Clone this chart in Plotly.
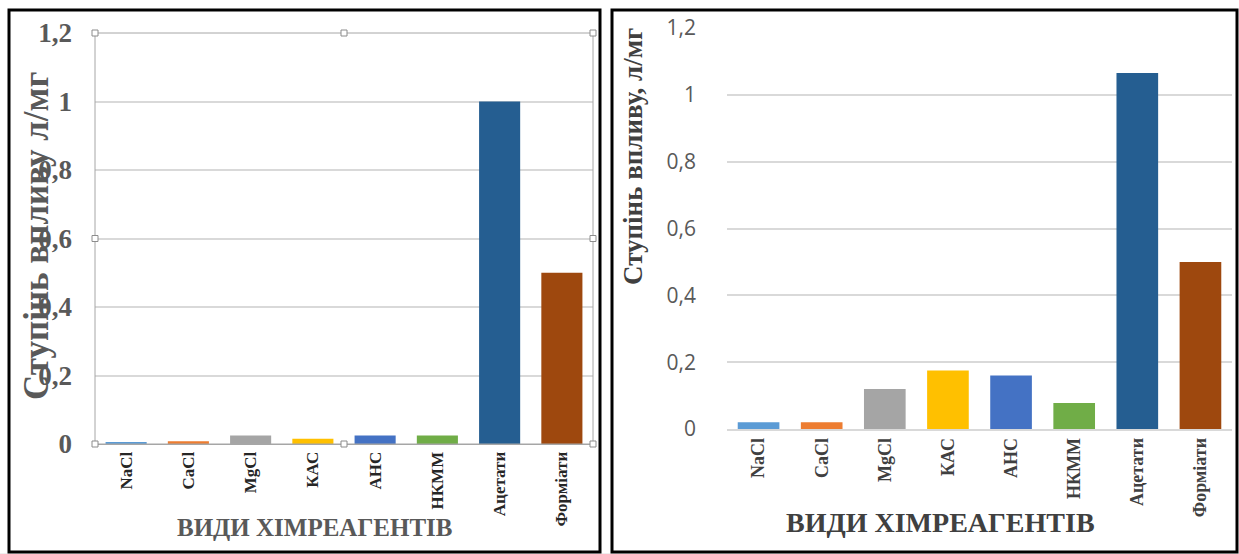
import plotly.graph_objects as go

categories = ["NaCl", "CaCl", "MgCl", "КАС", "АНС", "НКММ", "Ацетати", "Форміати"]
values_left = [0.003, 0.008, 0.025, 0.015, 0.025, 0.025, 1.0, 0.5]
values_right = [0.02, 0.02, 0.12, 0.175, 0.16, 0.078, 1.065, 0.5]
colors = ["#5B9BD5", "#ED7D31", "#A5A5A5", "#FFC000", "#4472C4", "#70AD47", "#255E91", "#9E480E"]
y_title_left = "Ступінь впливу л/мг"
y_title_right = "Ступінь впливу, л/мг"
x_title = "ВИДИ ХІМРЕАГЕНТІВ"

W, H = 1239, 554
def px(x):
    return x / W
def py(y):
    return 1 - y / H

SERIF = "Liberation Serif, Times New Roman, serif"
SANS = "Open Sans, Liberation Sans, sans-serif"

fig = go.Figure()
fig.add_trace(go.Bar(x=categories, y=values_left, marker=dict(color=colors, line=dict(width=0)),
                     xaxis="x", yaxis="y", showlegend=False))
fig.add_trace(go.Bar(x=categories, y=values_right, marker=dict(color=colors, line=dict(width=0)),
                     xaxis="x2", yaxis="y2", showlegend=False))

L = dict(x0=95, x1=593, ytop=33, ybot=444)
R = dict(x0=727, x1=1232, ytop=28, ybot=429)

fig.update_layout(
    width=W, height=H,
    margin=dict(l=0, r=0, t=0, b=0, autoexpand=False),
    paper_bgcolor="white", plot_bgcolor="white",
    separators=", ",
    bargap=0.34,
    xaxis=dict(domain=[px(L["x0"]), px(L["x1"])], anchor="y", tickangle=-90, automargin=False,
               tickfont=dict(family=SERIF, size=17, color="#262626", weight="bold"),
               showline=True, linecolor="#A6A6A6", linewidth=1, ticks="", showgrid=False),
    yaxis=dict(domain=[py(L["ybot"]), py(L["ytop"])], anchor="x", range=[0, 1.2], dtick=0.2,
               automargin=False,
               tickfont=dict(family=SERIF, size=27, color="#595959", weight="bold"),
               showgrid=True, gridcolor="#D9D9D9", gridwidth=1.5, zeroline=False,
               showline=False, ticklabelstandoff=22),
    xaxis2=dict(domain=[px(R["x0"]), px(R["x1"])], anchor="y2", tickangle=-90, automargin=False,
                tickfont=dict(family=SERIF, size=18, color="#404040", weight="bold"),
                showline=True, linecolor="#D9D9D9", linewidth=1.5, ticks="", showgrid=False),
    yaxis2=dict(domain=[py(R["ybot"]), py(R["ytop"])], anchor="x2", range=[0, 1.2], dtick=0.2,
                automargin=False,
                tickfont=dict(family=SANS, size=21, color="#595959"),
                showgrid=True, gridcolor="#D9D9D9", gridwidth=1.5, zeroline=False,
                showline=False, ticklabelstandoff=30),
)

annotations = [
    dict(text=f"<b>{y_title_left}</b>", x=px(36), y=py(236), xref="paper", yref="paper",
         textangle=-90, showarrow=False, font=dict(family=SERIF, size=35, color="#595959"),
         xanchor="center", yanchor="middle"),
    dict(text=f"<b>{x_title}</b>", x=px(315), y=py(527), xref="paper", yref="paper",
         showarrow=False, font=dict(family=SERIF, size=25, color="#595959"),
         xanchor="center", yanchor="middle"),
    dict(text=f"<b>{y_title_right}</b>", x=px(633), y=py(157), xref="paper", yref="paper",
         textangle=-90, showarrow=False, font=dict(family=SERIF, size=27, color="#404040"),
         xanchor="center", yanchor="middle"),
    dict(text=f"<b>{x_title}</b>", x=px(940), y=py(522), xref="paper", yref="paper",
         showarrow=False, font=dict(family=SERIF, size=28, color="#404040"),
         xanchor="center", yanchor="middle"),
]
fig.update_layout(annotations=annotations)

shapes = []
shapes.append(dict(type="rect", xref="paper", yref="paper", x0=px(9), x1=px(600), y0=py(552), y1=py(10),
                   line=dict(color="black", width=3)))
shapes.append(dict(type="rect", xref="paper", yref="paper", x0=px(612), x1=px(1237), y0=py(552), y1=py(10),
                   line=dict(color="black", width=3)))
shapes.append(dict(type="rect", xref="paper", yref="paper", x0=0, x1=1, y0=0, y1=py(553),
                   line=dict(width=0), fillcolor="#EFEFEF", layer="below"))
shapes.append(dict(type="rect", xref="paper", yref="paper", x0=px(L["x0"]), x1=px(L["x1"]),
                   y0=py(L["ybot"]), y1=py(L["ytop"]), line=dict(color="#A6A6A6", width=1)))
hs = 3
xm = (L["x0"] + L["x1"]) / 2
ym = (L["ytop"] + L["ybot"]) / 2
for (hx, hy) in [(L["x0"], L["ytop"]), (xm, L["ytop"]), (L["x1"], L["ytop"]),
                 (L["x0"], ym), (L["x1"], ym),
                 (L["x0"], L["ybot"]), (xm, L["ybot"]), (L["x1"], L["ybot"])]:
    shapes.append(dict(type="rect", xref="paper", yref="paper",
                       x0=px(hx - hs), x1=px(hx + hs), y0=py(hy + hs), y1=py(hy - hs),
                       line=dict(color="#8C8C8C", width=1), fillcolor="white"))
fig.update_layout(shapes=shapes)

fig.write_html("out.html", config={"displayModeBar": False},
               post_script="document.body.style.margin='0';document.body.style.overflow='hidden';")
